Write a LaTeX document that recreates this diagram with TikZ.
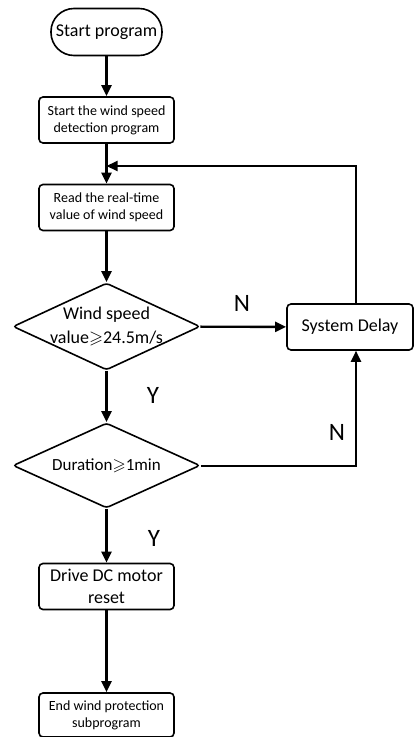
\documentclass[tikz,border=0pt]{standalone}
\usepackage{fontspec}
\setmainfont{Carlito}
\usepackage{amssymb}
\usetikzlibrary{shapes.geometric,arrows.meta}

\begin{document}
\begin{tikzpicture}[x=1pt,y=-1pt,
  box/.style={draw,rounded corners=4pt,line width=1.6pt,minimum width=135pt,minimum height=46pt,inner sep=0pt,align=center,font=\fontsize{14}{17}\selectfont},
  bigbox/.style={box,font=\fontsize{18}{22}\selectfont},
  decide/.style={draw,diamond,rounded corners=3pt,line width=1.6pt,minimum width=187pt,minimum height=87pt,inner sep=0pt},
  flow/.style={line width=2.4pt,-{Triangle[length=11pt,width=10pt]}},
  yn/.style={font=\fontsize{25}{30}\selectfont}]
\useasboundingbox (0,0) rectangle (414,737);
% Boxes of the main column
\node[bigbox,rounded corners=23pt,minimum width=111pt,minimum height=47pt] (start) at (106.5,32) {Start program};
\node[box] (detect) at (106.5,120) {Start the wind speed\\detection program};
\node[box] (read) at (106.5,207.5) {Read the real-time\\value of wind speed};
\node[decide,label={[align=center,font=\fontsize{18}{24}\selectfont]center:Wind speed\\value$\geqslant$24.5m/s}] (speed) at (106.5,326.5) {};
\node[decide,minimum height=85pt,label={[font=\fontsize{17}{20}\selectfont]center:Duration$\geqslant$1min}] (dur) at (106.5,465.5) {};
\node[bigbox] (motor) at (106.5,586.5) {Drive DC motor\\reset};
\node[box,minimum height=44pt] (stop) at (106.5,715) {End wind protection\\subprogram};
% Delay box on the right
\node[bigbox,minimum width=126pt] (delay) at (350,327) {System Delay};
\coordinate (turn) at (356,166);
\coordinate (join) at (106.5,166);
% Connectors
\draw[flow] (start) -- (detect);
\draw[flow] (detect) -- (read);
\draw[flow] (read) -- (speed);
\draw[flow] (speed) -- (delay);
\draw[flow] (speed) -- (dur);
\draw[flow] (dur) -- (motor);
\draw[flow] (motor) -- (stop);
\draw[flow,line width=2pt] (delay.north -| turn) -- (turn) -- (join);
\draw[flow,line width=2pt] (dur.east) -| (delay.south -| turn);
% Y and N marks
\node[yn] (n1) at (242,303) {N};
\node[yn] (n2) at (337,432) {N};
\node[yn] (y1) at (153,395) {Y};
\node[yn] (y2) at (154,538) {Y};
\end{tikzpicture}
\end{document}
